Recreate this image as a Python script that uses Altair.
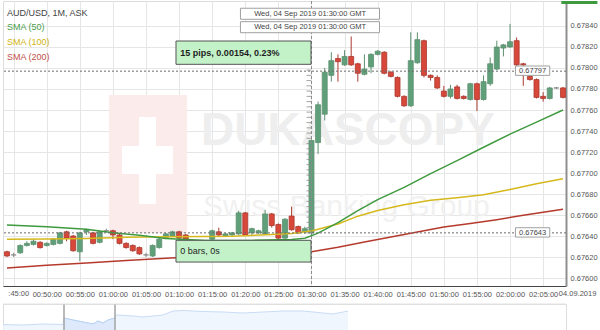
import altair as alt
import pandas as pd

# ---------------- data (AUD/USD, 1-minute ASK bars, 04 Sep 2019, GMT) ----------------
# bar times as minutes after 00:00 GMT
minutes = list(range(44, 129))
opens = [
    0.67625, 0.67622, 0.67624, 0.67631, 0.67632, 0.67634, 0.67631, 0.67632, 0.67633, 0.67644,
    0.67640, 0.67625, 0.67644, 0.67643, 0.67634, 0.67645, 0.67645, 0.67641, 0.67633, 0.67631,
    0.67629, 0.67622, 0.67621, 0.67629, 0.67638, 0.67640, 0.67644, 0.67641, 0.67635, 0.67632,
    0.67633, 0.67637, 0.67644, 0.67640, 0.67641, 0.67642, 0.67662, 0.67643, 0.67643, 0.67642,
    0.67661, 0.67651, 0.67638, 0.67659, 0.67649, 0.67644, 0.67643, 0.67729, 0.67756, 0.67793,
    0.67809, 0.67803, 0.67811, 0.67804, 0.67794, 0.67801, 0.67813, 0.67815, 0.67796, 0.67791,
    0.67773, 0.67764, 0.67805, 0.67826, 0.67793, 0.67791, 0.67778, 0.67773, 0.67782, 0.67773,
    0.67770, 0.67785, 0.67770, 0.67785, 0.67799, 0.67819, 0.67820, 0.67826, 0.67804, 0.67792,
    0.67789, 0.67773, 0.67771, 0.67781, 0.67781,
]
highs = [
    0.67626, 0.67624, 0.67632, 0.67635, 0.67637, 0.67635, 0.67634, 0.67638, 0.67644, 0.67645,
    0.67641, 0.67644, 0.67647, 0.67644, 0.67645, 0.67647, 0.67646, 0.67642, 0.67634, 0.67632,
    0.67630, 0.67624, 0.67632, 0.67638, 0.67643, 0.67645, 0.67645, 0.67642, 0.67635, 0.67635,
    0.67635, 0.67646, 0.67648, 0.67643, 0.67644, 0.67664, 0.67663, 0.67648, 0.67646, 0.67665,
    0.67662, 0.67652, 0.67657, 0.67668, 0.67650, 0.67649, 0.67732, 0.67768, 0.67800, 0.67815,
    0.67813, 0.67817, 0.67830, 0.67805, 0.67813, 0.67814, 0.67817, 0.67816, 0.67797, 0.67792,
    0.67774, 0.67834, 0.67834, 0.67827, 0.67794, 0.67793, 0.67783, 0.67784, 0.67784, 0.67774,
    0.67786, 0.67786, 0.67793, 0.67810, 0.67826, 0.67823, 0.67842, 0.67829, 0.67805, 0.67793,
    0.67790, 0.67777, 0.67782, 0.67782, 0.67782,
]
lows = [
    0.67620, 0.67620, 0.67623, 0.67630, 0.67631, 0.67628, 0.67630, 0.67631, 0.67632, 0.67635,
    0.67625, 0.67616, 0.67641, 0.67632, 0.67633, 0.67644, 0.67637, 0.67632, 0.67628, 0.67625,
    0.67622, 0.67620, 0.67620, 0.67628, 0.67637, 0.67639, 0.67637, 0.67635, 0.67630, 0.67631,
    0.67632, 0.67636, 0.67640, 0.67639, 0.67640, 0.67641, 0.67640, 0.67641, 0.67642, 0.67641,
    0.67648, 0.67637, 0.67637, 0.67645, 0.67642, 0.67642, 0.67640, 0.67718, 0.67750, 0.67787,
    0.67787, 0.67802, 0.67802, 0.67787, 0.67793, 0.67795, 0.67812, 0.67794, 0.67791, 0.67772,
    0.67763, 0.67763, 0.67804, 0.67791, 0.67788, 0.67780, 0.67772, 0.67771, 0.67770, 0.67770,
    0.67769, 0.67759, 0.67769, 0.67783, 0.67798, 0.67811, 0.67819, 0.67802, 0.67783, 0.67788,
    0.67771, 0.67768, 0.67770, 0.67780, 0.67771,
]
closes = [
    0.67621, 0.67622, 0.67631, 0.67633, 0.67635, 0.67629, 0.67633, 0.67637, 0.67643, 0.67638,
    0.67626, 0.67643, 0.67646, 0.67633, 0.67644, 0.67645, 0.67641, 0.67633, 0.67629, 0.67626,
    0.67623, 0.67622, 0.67631, 0.67637, 0.67642, 0.67644, 0.67638, 0.67637, 0.67632, 0.67634,
    0.67635, 0.67645, 0.67641, 0.67642, 0.67643, 0.67662, 0.67641, 0.67647, 0.67645, 0.67661,
    0.67650, 0.67638, 0.67656, 0.67646, 0.67643, 0.67647, 0.67731, 0.67765, 0.67796, 0.67807,
    0.67806, 0.67811, 0.67803, 0.67795, 0.67799, 0.67813, 0.67816, 0.67795, 0.67792, 0.67773,
    0.67764, 0.67807, 0.67827, 0.67793, 0.67791, 0.67781, 0.67773, 0.67780, 0.67771, 0.67771,
    0.67785, 0.67770, 0.67787, 0.67804, 0.67820, 0.67822, 0.67825, 0.67803, 0.67803, 0.67789,
    0.67772, 0.67771, 0.67781, 0.67781, 0.67772,
]

# simple moving averages
sma50_t = [44, 50, 56, 60, 64, 68, 74, 81, 87, 89, 91, 94, 97, 100, 104, 108, 112, 116, 120, 124, 128]
sma50_v = [0.676504, 0.676489, 0.676465, 0.676432, 0.676407, 0.676377, 0.676358, 0.676358, 0.676367,
           0.676379, 0.676427, 0.676527, 0.676642, 0.676747, 0.676863, 0.676994, 0.677118, 0.677245,
           0.677370, 0.677484, 0.677600]
sma100_t = [44, 50, 56, 62, 68, 74, 78, 84, 87, 90, 94, 97, 100, 104, 108, 112, 116, 120, 124, 128]
sma100_v = [0.676369, 0.676372, 0.676377, 0.676388, 0.676394, 0.676396, 0.676398, 0.676415, 0.676425,
            0.676448, 0.676515, 0.676589, 0.676642, 0.676698, 0.676741, 0.676764, 0.676792, 0.676843,
            0.676898, 0.676945]
sma200_t = [44, 50, 56, 62, 68, 74, 80, 86, 90, 94, 98, 102, 106, 110, 114, 118, 122, 128]
sma200_v = [0.676096, 0.676122, 0.676144, 0.676166, 0.676188, 0.676207, 0.676225, 0.676240, 0.676251,
            0.676293, 0.676342, 0.676391, 0.676439, 0.676485, 0.676519, 0.676556, 0.676598, 0.676654]

# measurement tool / price markers
level_hi = 0.67797
level_lo = 0.67643
cursor_min = 90  # 01:30:00
measure_text = "15 pips, 0.00154, 0.23%"
bars_text = "0 bars, 0s"
time_text = "Wed, 04 Sep 2019 01:30:00 GMT"
date_text = "04.09.2019"
first_label = ":45:00"   # partially visible first time label at the left edge

# navigator strip (relative volume profile)
nav_pos = [0, 20, 40, 60, 61, 70, 80, 90, 95, 100, 105, 112, 113, 130, 140, 150, 160, 170, 180,
           200, 220, 240, 260, 280, 300, 320, 330, 340, 345]
nav_val = [9.5, 9, 10, 9.5, 16, 14, 12, 10, 13, 11, 14, 16, 19, 18, 17, 18, 19, 23, 23.5,
           22.5, 22, 21, 22, 23, 23, 21, 20, 22, 23]
nav_sel = [61, 112]

y_ticks = [0.67600, 0.67620, 0.67640, 0.67660, 0.67680, 0.67700, 0.67720,
           0.67740, 0.67760, 0.67780, 0.67800, 0.67820, 0.67840]
x_ticks = [45, 50, 55, 60, 65, 70, 75, 80, 85, 90, 95, 100, 105, 110, 115, 120, 125]

# ---------------- tables ----------------
def direction(o, c):
    return "up" if c > o else ("down" if c < o else "flat")

candles = pd.DataFrame({"m": minutes, "o": opens, "h": highs, "l": lows, "c": closes})
candles["dir"] = [direction(o, c) for o, c in zip(opens, closes)]

FONT = "Liberation Sans"
x_scale = alt.Scale(domain=[44.15, 127.7], nice=False, zero=False)
y_scale = alt.Scale(domain=[0.675924, 0.678638], nice=False, zero=False)

x_axis = alt.Axis(values=x_ticks, title=None, grid=True, gridColor="#e6e6e6", ticks=False,
                  domainColor="#444444", labelFontSize=7.5, labelColor="#555555", labelPadding=4,
                  labelFlush=False, labelOverlap=False, labelFont=FONT,
                  labelExpr="datum.value == 45 ? '' : utcFormat(datum.value * 60000, '%H:%M:%S')")
y_axis = alt.Axis(orient="right", values=y_ticks, format=".5f", title=None, grid=True,
                  gridColor="#e6e6e6", ticks=False, domainColor="#8f8f8f", domainWidth=2,
                  labelFontSize=7.5, labelColor="#555555", labelPadding=4, labelFont=FONT)


def X(f):
    return alt.X(f, type="quantitative", scale=x_scale, axis=x_axis)


def Y(f):
    return alt.Y(f, type="quantitative", scale=y_scale, axis=y_axis)


one = pd.DataFrame({"k": [0]})

# ---------------- watermark ----------------
wm_rect = alt.Chart(one).mark_rect(color="#fcebeb").encode(
    x=alt.value(106), x2=alt.value(184), y=alt.value(94), y2=alt.value(232))
wm_cross_v = alt.Chart(one).mark_rect(color="#ffffff").encode(
    x=alt.value(136), x2=alt.value(153), y=alt.value(116), y2=alt.value(203))
wm_cross_h = alt.Chart(one).mark_rect(color="#ffffff").encode(
    x=alt.value(119), x2=alt.value(170), y=alt.value(145), y2=alt.value(173))
wm_text = alt.Chart(one).mark_text(text="DUKASCOPY", font=FONT, fontSize=46, fontWeight="bold",
                                   color="#eeeeee", align="left", baseline="middle").encode(
    x=alt.value(198), y=alt.value(130))
wm_text2 = alt.Chart(one).mark_text(text="Swiss Banking Group", font=FONT, fontSize=30,
                                    color="#f1f1f1", align="left", baseline="middle").encode(
    x=alt.value(200), y=alt.value(206))

# ---------------- candles & indicators ----------------
dir_dom = ["up", "down", "flat"]
wicks = alt.Chart(candles).mark_rule(strokeWidth=1, clip=True).encode(
    x=X("m"), y=Y("l"), y2="h",
    stroke=alt.Stroke("dir:N", scale=alt.Scale(domain=dir_dom, range=["#5e8f70", "#a8392e", "#888888"]),
                      legend=None))
bodies = alt.Chart(candles).mark_bar(size=5, strokeWidth=0.8, clip=True).encode(
    x=X("m"), y=Y("o"), y2="c",
    fill=alt.Fill("dir:N", scale=alt.Scale(domain=dir_dom, range=["#5fa07a", "#d8483a", "#888888"]),
                  legend=None),
    stroke=alt.Stroke("dir:N", scale=alt.Scale(domain=dir_dom, range=["#3f7453", "#8f2b21", "#888888"]),
                      legend=None))


def sma_line(ts, vs, col):
    return alt.Chart(pd.DataFrame({"m": ts, "v": vs})).mark_line(
        strokeWidth=1.5, clip=True, color=col).encode(x=X("m"), y=Y("v"))


line50 = sma_line(sma50_t, sma50_v, "#3f9a3f")
line100 = sma_line(sma100_t, sma100_v, "#d6b81c")
line200 = sma_line(sma200_t, sma200_v, "#b53a2d")

# ---------------- measurement tool ----------------
levels = pd.DataFrame({"p": [level_hi, level_lo]})
hrules = alt.Chart(levels).mark_rule(color="#6b6b6b", strokeDash=[2, 2], strokeWidth=1).encode(y=Y("p"))
vrule = alt.Chart(pd.DataFrame({"m": [cursor_min]})).mark_rule(
    color="#8a8a8a", strokeDash=[3, 2], strokeWidth=1).encode(x=X("m"))

# ruler ticks every half pip between the two measured levels
n_ruler = int(round((level_hi - level_lo) / 0.00005))
ruler = pd.DataFrame({"p": [level_lo + 0.00005 * i for i in range(n_ruler + 1)],
                      "x1": 89.25, "x2": cursor_min - 0.05})
ruler_ticks = alt.Chart(ruler).mark_rule(color="#8a8a8a", strokeWidth=0.8).encode(
    x=X("x1"), x2="x2", y=Y("p"))

green_boxes = pd.DataFrame({
    "x1": [69.53, 69.53], "x2": [89.93, 89.93],
    "y1": [0.678257, 0.676359], "y2": [0.678035, 0.676152],
    "tx": [70.19, 70.19], "ty": [0.678146, 0.676257],
    "label": [measure_text, bars_text],
})
gbox = alt.Chart(green_boxes).mark_rect(fill="#c3f2c9", stroke="#555555", strokeWidth=1).encode(
    x=X("x1"), x2="x2", y=Y("y1"), y2="y2")
gtext_b = alt.Chart(green_boxes.iloc[[0]]).mark_text(
    font=FONT, fontSize=9, fontWeight="bold", color="#1e1e1e", align="left", baseline="middle").encode(
    x=X("tx"), y=Y("ty"), text="label:N")
gtext_n = alt.Chart(green_boxes.iloc[[1]]).mark_text(
    font=FONT, fontSize=9, color="#1e1e1e", align="left", baseline="middle").encode(
    x=X("tx"), y=Y("ty"), text="label:N")

time_boxes = pd.DataFrame({
    "x1": [79.27, 79.27], "x2": [100.28, 100.28],
    "y1": [0.678569, 0.678441], "y2": [0.678464, 0.678336],
    "tx": [89.8, 89.8], "ty": [0.678516, 0.678388], "label": [time_text, time_text],
})
tbox = alt.Chart(time_boxes).mark_rect(fill="#ffffff", stroke="#a0a0a0", strokeWidth=1).encode(
    x=X("x1"), x2="x2", y=Y("y1"), y2="y2")
ttext = alt.Chart(time_boxes).mark_text(font=FONT, fontSize=7.5, color="#444444",
                                        align="center", baseline="middle").encode(
    x=X("tx"), y=Y("ty"), text="label:N")

price_tags = pd.DataFrame({
    "x1": [120.82, 120.82], "x2": [126.0, 126.0],
    "y1": [0.678019, 0.676479], "y2": [0.677930, 0.676390],
    "tx": [123.41, 123.41], "ty": [level_hi, level_lo],
    "label": [f"{level_hi:.5f}", f"{level_lo:.5f}"],
})
pbox = alt.Chart(price_tags).mark_rect(fill="#ffffff", stroke="#a0a0a0", strokeWidth=1).encode(
    x=X("x1"), x2="x2", y=Y("y1"), y2="y2")
ptext = alt.Chart(price_tags).mark_text(font=FONT, fontSize=7.5, color="#444444",
                                        align="center", baseline="middle").encode(
    x=X("tx"), y=Y("ty"), text="label:N")

# current price tag (cut off at the top), date stamp in the corner, cut first label
cur = pd.DataFrame({"x1": [127.75], "x2": [133.2], "y1": [0.678638], "y2": [0.678610]})
cur_tag = alt.Chart(cur).mark_rect(fill="#3f9a3f").encode(x=X("x1"), x2="x2", y=Y("y1"), y2="y2")
edge_df = pd.DataFrame({"m": [130.2, 44.2], "p": [0.67585, 0.67585], "label": [date_text, first_label],
                        "a": ["c", "l"]})
date_lbl = alt.Chart(edge_df.iloc[[0]]).mark_text(font=FONT, fontSize=7.5, color="#555555",
                                                  align="center", baseline="middle").encode(
    x=X("m"), y=Y("p"), text="label:N")
first_lbl = alt.Chart(edge_df.iloc[[1]]).mark_text(font=FONT, fontSize=7.5, color="#555555",
                                                   align="left", baseline="middle").encode(
    x=X("m"), y=Y("p"), text="label:N")

# ---------------- legend (top-left) ----------------
def legend_text(txt, col, ypix):
    return alt.Chart(one).mark_text(text=txt, font=FONT, fontSize=9, color=col,
                                    align="left", baseline="middle").encode(
        x=alt.value(4), y=alt.value(ypix))

leg = [
    legend_text("AUD/USD, 1M, ASK", "#444444", 12),
    legend_text("SMA (50)", "#4a9d4a", 26),
    legend_text("SMA (100)", "#d2b410", 41),
    legend_text("SMA (200)", "#c0514a", 56),
]

main = alt.layer(
    wm_rect, wm_cross_v, wm_cross_h, wm_text, wm_text2,
    wicks, bodies, line200, line100, line50,
    hrules, vrule, ruler_ticks, gbox, gtext_b, gtext_n, tbox, ttext, pbox, ptext,
    cur_tag, date_lbl, first_lbl, *leg,
).properties(width=563, height=285)

# ---------------- navigator ----------------
nav = pd.DataFrame({"p": nav_pos, "v": nav_val})
nx = alt.Scale(domain=[0, 563], nice=False, zero=False)
ny = alt.Scale(domain=[0, 30], nice=False)
nav_area = alt.Chart(nav).mark_area(color="#eaf2fd", line={"color": "#c9dcf6", "strokeWidth": 1}).encode(
    x=alt.X("p:Q", scale=nx, axis=None), y=alt.Y("v:Q", scale=ny, axis=None))
nav_hl = alt.Chart(nav[(nav.p >= nav_sel[0]) & (nav.p <= nav_sel[1])]).mark_area(
    color="#d6e6f9", line={"color": "#b9d2f3", "strokeWidth": 1}).encode(
    x=alt.X("p:Q", scale=nx, axis=None), y=alt.Y("v:Q", scale=ny, axis=None))
nav_handles = alt.Chart(pd.DataFrame({"p": nav_sel})).mark_rule(color="#a3a3a3", strokeWidth=1.5).encode(
    x=alt.X("p:Q", scale=nx, axis=None))
nav_top = alt.Chart(pd.DataFrame({"v": [30]})).mark_rule(color="#e2e2e2", strokeWidth=1).encode(
    y=alt.Y("v:Q", scale=ny, axis=None))
navigator = alt.layer(nav_area, nav_hl, nav_handles, nav_top).properties(width=563, height=30)

chart = alt.vconcat(main, navigator, spacing=4).properties(
    padding={"left": 0, "top": 0, "right": 0, "bottom": 0}
).configure_view(strokeWidth=0).configure(font=FONT)

chart.save("out.html", embed_options={"renderer": "svg", "actions": False})
